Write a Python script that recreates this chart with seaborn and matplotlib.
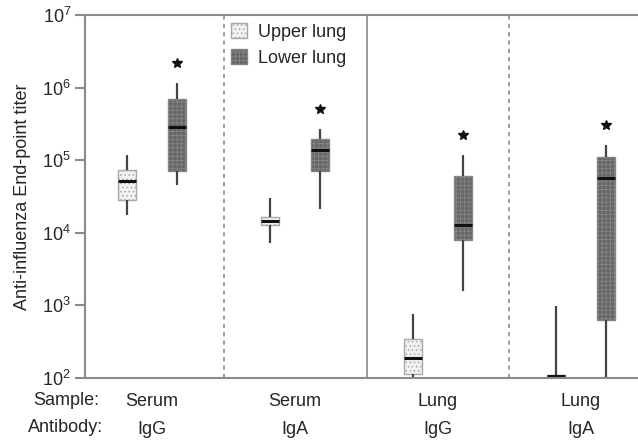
import numpy as np
import pandas as pd
import matplotlib
matplotlib.use("Agg")
import matplotlib.pyplot as plt
import seaborn as sns
from matplotlib.patches import Patch
from matplotlib.ticker import LogLocator, FixedFormatter

# ---- data ----
samples = ["Serum", "Serum", "Lung", "Lung"]
antibodies = ["IgG", "IgA", "IgG", "IgA"]
regions = ["Upper lung", "Lower lung"]

upper_min = [1.76e4, 7.2e3, 100, 100]
upper_q1 = [2.8e4, 1.3e4, 115, 100]
upper_med = [5.1e4, 1.45e4, 190, 105]
upper_q3 = [7.3e4, 1.66e4, 345, 110]
upper_max = [1.18e5, 3.0e4, 760, 980]

lower_min = [4.6e4, 2.1e4, 1.6e3, 100]
lower_q1 = [7.1e4, 7.1e4, 7.9e3, 620]
lower_med = [2.9e5, 1.4e5, 1.3e4, 5.6e4]
lower_q3 = [6.9e5, 1.96e5, 6.0e4, 1.1e5]
lower_max = [1.16e6, 2.7e5, 1.18e5, 1.6e5]

ytick_vals = [1e2, 1e3, 1e4, 1e5, 1e6, 1e7]
ytick_labels = ["$10^{2}$", "$10^{3}$", "$10^{4}$", "$10^{5}$", "$10^{6}$", "$10^{7}$"]

# ---- build long table: 5 points per box reproduce min/q1/median/q3/max ----
groups = [f"{s}\n{a}" for s, a in zip(samples, antibodies)]
rows = []
for i, g in enumerate(groups):
    for v in (upper_min[i], upper_q1[i], upper_med[i], upper_q3[i], upper_max[i]):
        rows.append((g, regions[0], v))
    for v in (lower_min[i], lower_q1[i], lower_med[i], lower_q3[i], lower_max[i]):
        rows.append((g, regions[1], v))
df = pd.DataFrame(rows, columns=["group", "region", "titer"])

sns.set_style("white")
plt.rcParams["font.family"] = ["Liberation Sans", "DejaVu Sans"]
plt.rcParams["mathtext.default"] = "regular"
plt.rcParams["hatch.linewidth"] = 0.6

fig = plt.figure(figsize=(6.38, 4.42), dpi=100)
ax = fig.add_axes([85 / 638, 64 / 442, 1 - 85 / 638, (378 - 15) / 442])

face = {"Upper lung": "#f1f1f1", "Lower lung": "#666666"}
sns.boxplot(
    data=df, x="group", y="titer", hue="region", order=groups, hue_order=regions,
    palette=face, width=0.7, gap=0.63, whis=np.inf, showcaps=False,
    log_scale=True, legend=False, ax=ax, saturation=1,
    linecolor="#4a4a4a", linewidth=1.3,
    medianprops=dict(color="#111111", linewidth=2.2),
    whiskerprops=dict(color="#444444", linewidth=1.6),
)

# hatch textures
hatch_style = {"Upper lung": ("....", "#a8a8a8"), "Lower lung": ("++++", "#858585")}
for p in ax.patches:
    fc = matplotlib.colors.to_hex(p.get_facecolor())
    key = "Upper lung" if fc == face["Upper lung"] else "Lower lung"
    p.set_hatch(hatch_style[key][0])
    p.set_edgecolor(hatch_style[key][1])
    p.set_linewidth(1.0)

# significance stars above lower-lung boxes
for i, m in enumerate(lower_max):
    ax.plot(i + 0.175, m * 10 ** 0.28, marker="*", color="#111111",
            markersize=7.5, linestyle="none")

# group separators
ax.axvline(0.5, color="#8c8c8c", lw=1.2, ls=(0, (2.5, 2.5)))
ax.axvline(1.5, color="#8c8c8c", lw=1.2)
ax.axvline(2.5, color="#8c8c8c", lw=1.2, ls=(0, (2.5, 2.5)))

ax.set_xlim(-0.47, 3.4)
ax.set_ylim(1e2, 1e7)
ax.set_yticks(ytick_vals)
ax.yaxis.set_major_formatter(FixedFormatter(ytick_labels))
ax.yaxis.set_minor_locator(LogLocator(subs=[]))
ax.set_ylabel("Anti-influenza End-point titer", fontsize=13, labelpad=8)
ax.set_xlabel("")

for sp in ("left", "top", "bottom"):
    ax.spines[sp].set_visible(True)
    ax.spines[sp].set_color("#8a8a8a")
    ax.spines[sp].set_linewidth(1.5)
ax.spines["right"].set_visible(False)

ax.tick_params(axis="y", which="major", direction="out", length=7, width=1.5,
               color="#8a8a8a", labelsize=13, left=True, pad=3)
ax.tick_params(axis="x", length=0, labelsize=13, pad=11)
for lbl in ax.get_xticklabels():
    lbl.set_linespacing(1.8)

fig.text(66 / 638, 1 - 414 / 442, "Sample:\nAntibody:", ha="center", va="center",
         fontsize=13, linespacing=1.8)

handles = [
    Patch(facecolor=face["Upper lung"], edgecolor=hatch_style["Upper lung"][1],
          hatch=hatch_style["Upper lung"][0], label="Upper lung"),
    Patch(facecolor=face["Lower lung"], edgecolor=hatch_style["Lower lung"][1],
          hatch=hatch_style["Lower lung"][0], label="Lower lung"),
]
fig.legend(handles=handles, loc="upper left", bbox_to_anchor=(231 / 638, 1 - 23 / 442),
           frameon=False, fontsize=13, handlelength=0.9, handleheight=0.9,
           handletextpad=0.6, labelspacing=0.45, borderpad=0, borderaxespad=0)

fig.savefig("out.png", dpi=100)
